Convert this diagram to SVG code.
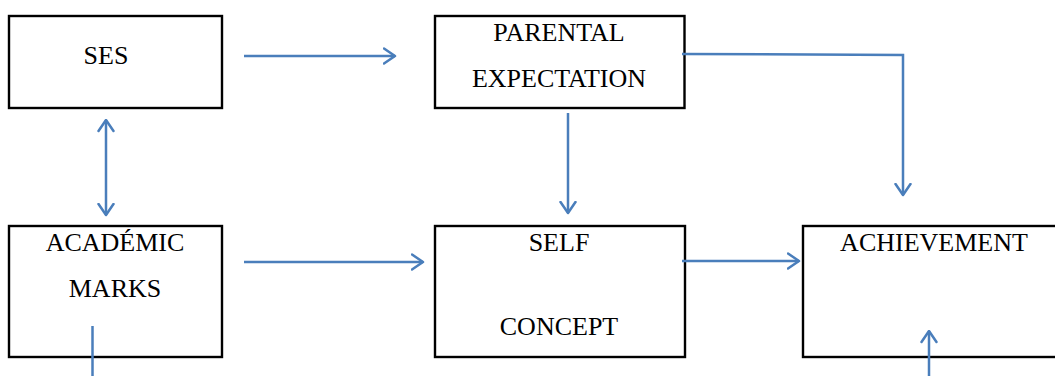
<svg xmlns="http://www.w3.org/2000/svg" width="1055" height="376" viewBox="0 0 1055 376">
<defs>
<style>
.box{fill:#fff;stroke:#000;stroke-width:2.4}
.lbl{font-family:"Liberation Serif","Times New Roman",serif;font-size:26px;fill:#000;text-anchor:middle}
.c{fill:none;stroke:#4a7ebb;stroke-width:2.5}
</style>
<marker id="ah" viewBox="0 0 14 18" refX="12.5" refY="9" markerWidth="14" markerHeight="18" markerUnits="userSpaceOnUse" orient="auto-start-reverse">
<path d="M1.5,1.5 L12.5,9 L1.5,16.5" fill="none" stroke="#4a7ebb" stroke-width="2.5" stroke-linecap="round" stroke-linejoin="round"/>
</marker>
</defs>
<rect width="1055" height="376" fill="#fff"/>
<g id="ses"><rect class="box" x="9" y="16" width="213" height="92"/><text class="lbl" x="106" y="64">SES</text></g>
<g id="parental"><rect class="box" x="435" y="16" width="249.5" height="92"/><text class="lbl" x="559" y="41">PARENTAL</text><text class="lbl" x="559" y="87">EXPECTATION</text></g>
<g id="academic"><rect class="box" x="9" y="226" width="213" height="131"/><text class="lbl" x="115" y="251">ACADÉMIC</text><text class="lbl" x="115" y="297">MARKS</text></g>
<g id="self"><rect class="box" x="435" y="226" width="250" height="131"/><text class="lbl" x="559" y="251">SELF</text><text class="lbl" x="559" y="335">CONCEPT</text></g>
<g id="achievement"><rect class="box" x="803" y="226" width="262" height="131"/><text class="lbl" x="934" y="251">ACHIEVEMENT</text></g>
<g id="connectors">
<path class="c" d="M244,56 H395" marker-end="url(#ah)"/>
<path class="c" d="M682,54 L903,55 V195" marker-end="url(#ah)"/>
<path class="c" d="M568,113 V213" marker-end="url(#ah)"/>
<path class="c" d="M106,120 V215" marker-start="url(#ah)" marker-end="url(#ah)"/>
<path class="c" d="M244,262 H423" marker-end="url(#ah)"/>
<path class="c" d="M682,261 H799" marker-end="url(#ah)"/>
<path class="c" d="M929,376 V331" marker-end="url(#ah)"/>
<path class="c" d="M92.5,326 V376"/>
</g>
</svg>
